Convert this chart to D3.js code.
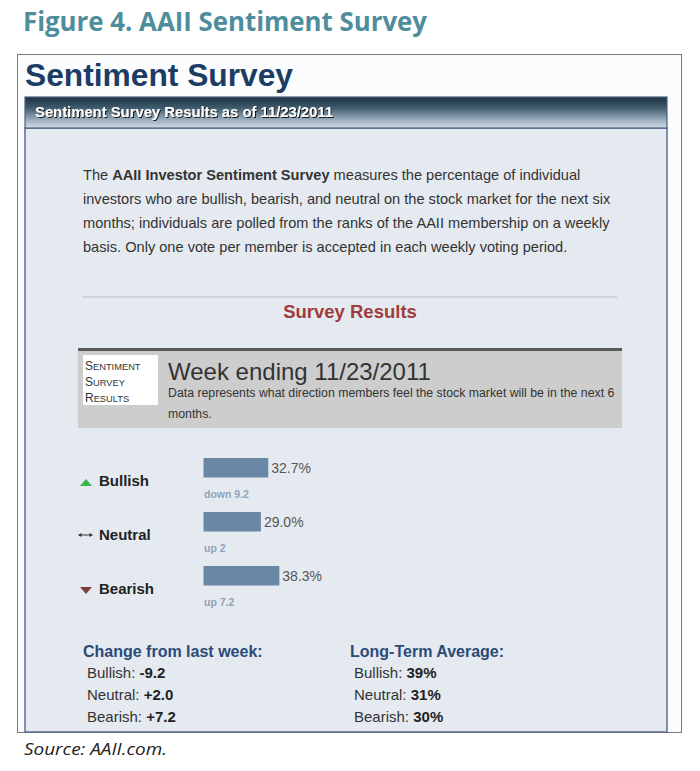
<!DOCTYPE html>
<html>
<head>
<meta charset="utf-8">
<script src="https://cdn.jsdelivr.net/npm/d3@7"></script>
<style>
  html, body { margin: 0; padding: 0; background: #ffffff; }
  svg { display: block; }
</style>
</head>
<body>
<script>
// ---------- data ----------
const categories = ["Bullish", "Neutral", "Bearish"];
const values = [32.7, 29.0, 38.3];
const weeklyNotes = ["down 9.2", "up 2", "up 7.2"];
const changeFromLastWeek = ["-9.2", "+2.0", "+7.2"];
const longTermAverage = ["39%", "31%", "30%"];
const surveyDate = "11/23/2011";

const W = 700, H = 771;
const svg = d3.select("body").append("svg").attr("width", W).attr("height", H);
const defs = svg.append("defs");

const SANS = "'Liberation Sans', Arial, sans-serif";

// gradient for header bar
const g1 = defs.append("linearGradient").attr("id", "hdr").attr("x1", 0).attr("y1", 0).attr("x2", 0).attr("y2", 1);
g1.append("stop").attr("offset", "0%").attr("stop-color", "#1b3243");
g1.append("stop").attr("offset", "35%").attr("stop-color", "#3f5b6d");
g1.append("stop").attr("offset", "75%").attr("stop-color", "#9fb0c0");
g1.append("stop").attr("offset", "100%").attr("stop-color", "#d2dbe5");

const sh = defs.append("filter").attr("id", "shadow").attr("x", "-5%").attr("y", "-30%").attr("width", "110%").attr("height", "160%");
sh.append("feDropShadow").attr("dx", 1).attr("dy", 1).attr("stdDeviation", 0.6).attr("flood-color", "#000").attr("flood-opacity", 0.85);

// ---------- figure title ----------
svg.append("text")
  .attr("x", 23).attr("y", 31)
  .attr("font-family", "'Open Sans', Lato, sans-serif")
  .attr("font-weight", 700).attr("font-size", 26)
  .attr("fill", "#4d8d9c")
  .attr("textLength", 404).attr("lengthAdjust", "spacingAndGlyphs")
  .text("Figure 4. AAII Sentiment Survey");

// ---------- outer frame ----------
svg.append("rect").attr("x", 17.5).attr("y", 54.5).attr("width", 664).attr("height", 678)
  .attr("fill", "#fbfcfd").attr("stroke", "#7a7a7a").attr("stroke-width", 1);

svg.append("text")
  .attr("x", 25).attr("y", 86)
  .attr("font-family", SANS).attr("font-weight", 700).attr("font-size", 31)
  .attr("fill", "#1c3d63")
  .attr("textLength", 268).attr("lengthAdjust", "spacingAndGlyphs")
  .text("Sentiment Survey");

// content panel
svg.append("rect").attr("x", 25).attr("y", 128).attr("width", 642).attr("height", 604)
  .attr("fill", "#e5eaf1").attr("stroke", "#5b6b92").attr("stroke-width", 1.5);

// header bar
svg.append("rect").attr("x", 25).attr("y", 97).attr("width", 642).attr("height", 31)
  .attr("fill", "url(#hdr)").attr("stroke", "#4d5f86").attr("stroke-width", 1.2);
svg.append("text")
  .attr("x", 35).attr("y", 117)
  .attr("font-family", SANS).attr("font-weight", 700).attr("font-size", 14)
  .attr("fill", "#ffffff").attr("filter", "url(#shadow)")
  .attr("textLength", 298).attr("lengthAdjust", "spacingAndGlyphs")
  .text("Sentiment Survey Results as of " + surveyDate);

// ---------- intro paragraph ----------
const para = svg.append("text")
  .attr("font-family", SANS).attr("font-size", 14.6).attr("fill", "#333333");
const lines = [
  [["The ", 400], ["AAII Investor Sentiment Survey", 700], [" measures the percentage of individual", 400]],
  [["investors who are bullish, bearish, and neutral on the stock market for the next six", 400]],
  [["months; individuals are polled from the ranks of the AAII membership on a weekly", 400]],
  [["basis. Only one vote per member is accepted in each weekly voting period.", 400]]
];
lines.forEach((ln, i) => {
  ln.forEach((seg, j) => {
    const t = para.append("tspan").attr("font-weight", seg[1]).text(seg[0]);
    if (j === 0) t.attr("x", 83).attr("y", 180 + i * 24);
  });
});

// rule
svg.append("line").attr("x1", 83).attr("x2", 617).attr("y1", 297).attr("y2", 297)
  .attr("stroke", "#b9bec6").attr("stroke-width", 1.2);
svg.append("text")
  .attr("x", 350).attr("y", 318).attr("text-anchor", "middle")
  .attr("font-family", SANS).attr("font-weight", 700).attr("font-size", 18.5)
  .attr("fill", "#a23b3b")
  .text("Survey Results");

// ---------- week box ----------
svg.append("rect").attr("x", 78).attr("y", 349).attr("width", 544).attr("height", 79).attr("fill", "#cdcdcd");
svg.append("rect").attr("x", 78).attr("y", 348).attr("width", 544).attr("height", 3).attr("fill", "#5a5a5a");
svg.append("rect").attr("x", 83).attr("y", 355).attr("width", 75).attr("height", 50).attr("fill", "#ffffff");

const sc = svg.append("text").attr("font-family", SANS).attr("fill", "#333333");
["Sentiment", "Survey", "Results"].forEach((w, i) => {
  const t = sc.append("tspan").attr("x", 85).attr("y", 370 + i * 16);
  t.append("tspan").attr("font-size", 12).text(w[0].toUpperCase());
  t.append("tspan").attr("font-size", 9.3).text(w.slice(1).toUpperCase());
});

svg.append("text")
  .attr("x", 168).attr("y", 380)
  .attr("font-family", SANS).attr("font-size", 24).attr("fill", "#333333")
  .text("Week ending " + surveyDate);
svg.append("text")
  .attr("x", 168).attr("y", 397)
  .attr("font-family", SANS).attr("font-size", 12.3).attr("fill", "#333333")
  .text("Data represents what direction members feel the stock market will be in the next 6");
svg.append("text")
  .attr("x", 168).attr("y", 418)
  .attr("font-family", SANS).attr("font-size", 12.3).attr("fill", "#333333")
  .text("months.");

// ---------- bars ----------
const x = d3.scaleLinear().domain([0, 100]).range([0, 198]);
const y = d3.scaleBand().domain(categories).range([458, 620]).padding(0);
const barH = 19.5;
const barX = 203.5;

const rows = svg.append("g").selectAll("g").data(categories).join("g");

rows.append("rect")
  .attr("x", barX)
  .attr("y", d => y(d))
  .attr("width", (d, i) => x(values[i]))
  .attr("height", barH)
  .attr("fill", "#6a87a6");

rows.append("text")
  .attr("x", (d, i) => barX + x(values[i]) + 3)
  .attr("y", d => y(d) + 15)
  .attr("font-family", SANS).attr("font-size", 14).attr("fill", "#555555")
  .text((d, i) => d3.format(".1f")(values[i]) + "%");

rows.append("text")
  .attr("x", barX + 0.5)
  .attr("y", d => y(d) + 40)
  .attr("font-family", SANS).attr("font-size", 10.5).attr("font-weight", 700)
  .attr("fill", "#90a3b8")
  .text((d, i) => weeklyNotes[i]);

rows.append("text")
  .attr("x", 99)
  .attr("y", d => y(d) + 28)
  .attr("font-family", SANS).attr("font-size", 15).attr("font-weight", 700)
  .attr("fill", "#222222")
  .text(d => d);

// icons
const yc = d => y(d) + 23;
svg.append("path")
  .attr("d", `M80,${yc("Bullish") + 5} L92,${yc("Bullish") + 5} L86,${yc("Bullish") - 2} Z`)
  .attr("fill", "#39b54a");
const yn = yc("Neutral");
svg.append("g").attr("stroke", "#333").attr("fill", "#333").call(g => {
  g.append("line").attr("x1", 79).attr("x2", 92).attr("y1", yn).attr("y2", yn).attr("stroke-width", 1);
  g.append("path").attr("d", `M78,${yn} L81.5,${yn - 2} L81.5,${yn + 2} Z`).attr("stroke", "none");
  g.append("path").attr("d", `M93,${yn} L89.5,${yn - 2} L89.5,${yn + 2} Z`).attr("stroke", "none");
});
svg.append("path")
  .attr("d", `M80,${yc("Bearish") - 2} L92,${yc("Bearish") - 2} L86,${yc("Bearish") + 5} Z`)
  .attr("fill", "#7d3b3b");

// ---------- bottom summary ----------
function summary(x0, title, vals) {
  svg.append("text")
    .attr("x", x0).attr("y", 657)
    .attr("font-family", SANS).attr("font-size", 16).attr("font-weight", 700)
    .attr("fill", "#2b4a78")
    .text(title);
  const t = svg.append("g").selectAll("text").data(categories).join("text")
    .attr("x", x0 + 4)
    .attr("y", (d, i) => 678 + i * 22)
    .attr("font-family", SANS).attr("font-size", 15).attr("fill", "#333333");
  t.append("tspan").text(d => d + ": ");
  t.append("tspan").attr("font-weight", 700).attr("fill", "#222").text((d, i) => vals[i]);
}
summary(83, "Change from last week:", changeFromLastWeek);
summary(350, "Long-Term Average:", longTermAverage);

// ---------- source ----------
svg.append("text")
  .attr("x", 24).attr("y", 755)
  .attr("font-family", "'Open Sans', Lato, sans-serif")
  .attr("font-style", "italic").attr("font-size", 17).attr("fill", "#222222")
  .attr("textLength", 143).attr("lengthAdjust", "spacingAndGlyphs")
  .text("Source: AAII.com.");
</script>
</body>
</html>
